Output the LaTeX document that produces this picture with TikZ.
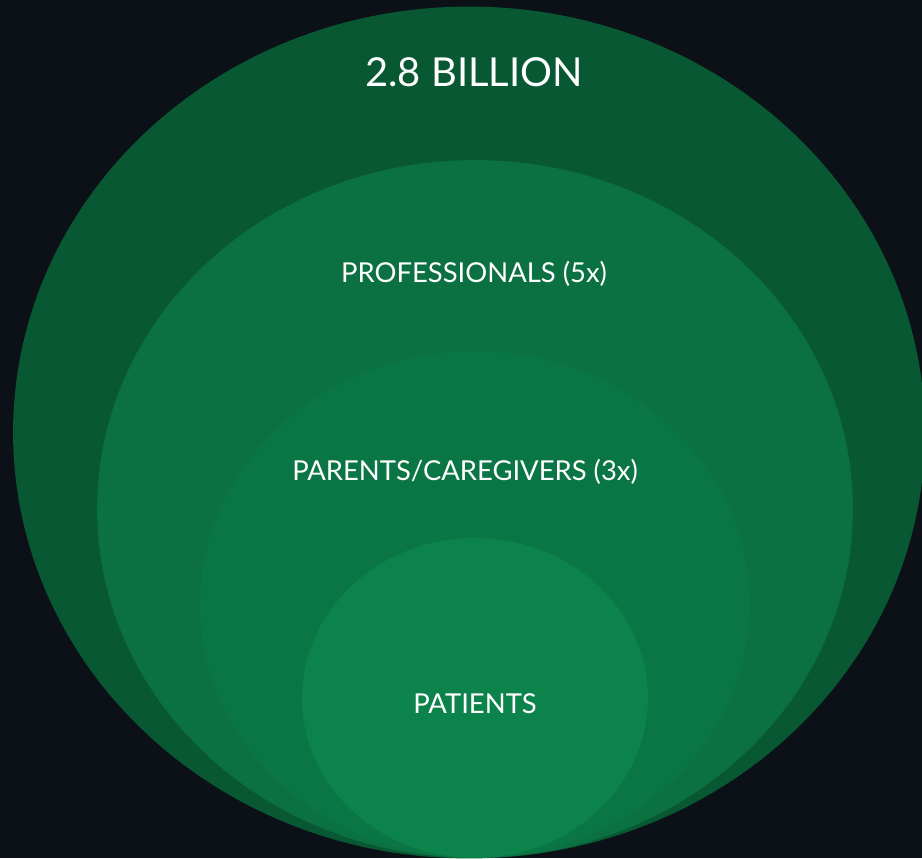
\documentclass[tikz,border=0pt]{standalone}
\usepackage{fontspec}
\setmainfont{Lato}
\usetikzlibrary{shapes.geometric}
\definecolor{bgdark}{RGB}{12,17,24}
\definecolor{ringA}{RGB}{8,89,51}
\definecolor{ringB}{RGB}{11,112,66}
\definecolor{ringC}{RGB}{11,118,69}
\definecolor{ringD}{RGB}{12,131,74}
\tikzstyle{ring} = [ellipse, inner sep=0pt, draw=none]
\tikzstyle{tag} = [text=white, font=\fontsize{15.6}{18}\selectfont, inner sep=0pt]
\tikzstyle{bigtag} = [text=white, font=\fontsize{22.7}{27}\selectfont, inner sep=0pt]

\begin{document}
\begin{tikzpicture}[x=0.02cm, y=-0.02cm]
\fill[bgdark] (0,0) rectangle (922,858);
\useasboundingbox (0,0) rectangle (922,858);
\clip (0,0) rectangle (922,858);
\node (World)[ring, fill=ringA, minimum width=18.24cm, minimum height=17.04cm] at (469,432.5) {};
\node (Prof)[ring, fill=ringB, minimum width=15.12cm, minimum height=13.96cm] at (475,509) {};
\node (Care)[ring, fill=ringC, minimum width=11cm, minimum height=10.14cm] at (475,604.5) {};
\node (Pat)[ring, fill=ringD, minimum width=6.92cm, minimum height=6.4cm] at (475,698) {};
\node (WorldTxt)[bigtag] at (474,72) {2.8 BILLION};
\node (ProfTxt)[tag] at (474,274) {PROFESSIONALS (5x)};
\node (CareTxt)[tag] at (465,472) {PARENTS/CAREGIVERS (3x)};
\node (PatTxt)[tag] at (475,704) {PATIENTS};
\end{tikzpicture}
\end{document}
